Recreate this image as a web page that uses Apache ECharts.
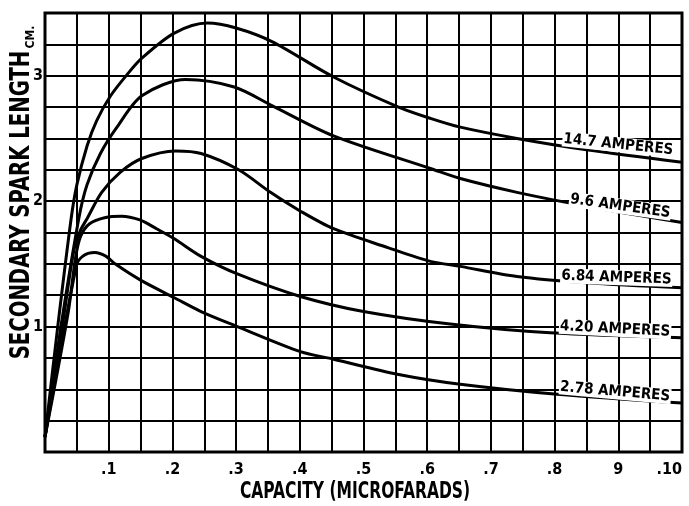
<!DOCTYPE html>
<html><head><meta charset="utf-8">
<script src="https://cdn.jsdelivr.net/npm/echarts@6/dist/echarts.min.js"></script>
<style>html,body{margin:0;padding:0;background:#fff}#c{width:689px;height:506px}</style>
</head><body><div id="c"></div>
<script>
// tick labels
const xTickLabels = ['', '.1', '.2', '.3', '.4', '.5', '.6', '.7', '.8', '9', '.10'];
const yTickLabels = ['', '1', '2', '3'];
const seriesNames = ['14.7 AMPERES', '9.6 AMPERES', '6.84 AMPERES', '4.20 AMPERES', '2.78 AMPERES'];

// 14.7 amperes
const cap147 = [0, 0.02, 0.041, 0.05, 0.066, 0.081, 0.103, 0.129, 0.152, 0.203, 0.255, 0.3, 0.357, 0.453, 0.555, 0.605, 0.652, 0.741, 0.85, 1.0];
const spark147 = [0.12, 1.0, 1.86, 2.13, 2.44, 2.64, 2.84, 3.01, 3.14, 3.34, 3.42, 3.38, 3.27, 2.99, 2.75, 2.66, 2.59, 2.5, 2.41, 2.31];
// 9.6 amperes
const cap96 = [0, 0.025, 0.053, 0.066, 0.087, 0.113, 0.152, 0.221, 0.297, 0.357, 0.453, 0.605, 0.652, 0.741, 0.85, 1.0];
const spark96 = [0.12, 1.0, 1.86, 2.13, 2.38, 2.59, 2.84, 2.97, 2.91, 2.76, 2.52, 2.26, 2.18, 2.07, 1.96, 1.83];
// 6.84 amperes
const cap684 = [0, 0.03, 0.045, 0.055, 0.066, 0.089, 0.118, 0.152, 0.205, 0.245, 0.304, 0.354, 0.401, 0.453, 0.538, 0.605, 0.652, 0.741, 0.85, 1.0];
const spark684 = [0.12, 1.1, 1.6, 1.76, 1.86, 2.07, 2.23, 2.34, 2.40, 2.38, 2.25, 2.07, 1.92, 1.78, 1.63, 1.52, 1.48, 1.40, 1.35, 1.31];
// 4.20 amperes
const cap420 = [0, 0.036, 0.048, 0.056, 0.07, 0.095, 0.12, 0.149, 0.175, 0.203, 0.245, 0.302, 0.401, 0.5, 0.636, 0.793, 1.0];
const spark420 = [0.12, 1.1, 1.55, 1.72, 1.82, 1.87, 1.88, 1.85, 1.78, 1.70, 1.56, 1.42, 1.24, 1.12, 1.02, 0.95, 0.91];
// 2.78 amperes
const cap278 = [0, 0.049, 0.059, 0.078, 0.096, 0.11, 0.15, 0.203, 0.245, 0.302, 0.401, 0.453, 0.553, 0.652, 0.804, 1.0];
const spark278 = [0.12, 1.48, 1.56, 1.59, 1.56, 1.50, 1.37, 1.23, 1.12, 1.0, 0.80, 0.74, 0.62, 0.54, 0.46, 0.39];

const capArrays = [cap147, cap96, cap684, cap420, cap278];
const sparkArrays = [spark147, spark96, spark684, spark420, spark278];

// where each curve's name is written (data coordinates) and its tilt
const labelCap = [0.9, 0.903, 0.897, 0.895, 0.895];
const labelSpark = [2.45, 1.96, 1.39, 0.98, 0.48];
const labelTilt = [-6, -8, -2, -3, -5];

const FONT = '"DejaVu Sans Condensed", "DejaVu Sans", sans-serif';

const chart = echarts.init(document.getElementById('c'), null, {renderer: 'canvas'});

const series = seriesNames.map((name, i) => ({
  name: name,
  type: 'line',
  smooth: 0.3,
  showSymbol: false,
  symbol: 'none',
  lineStyle: {color: '#000', width: 3},
  data: capArrays[i].map((c, j) => [c, sparkArrays[i][j]]),
  markPoint: {
    symbol: 'rect',
    symbolSize: [1, 1],
    itemStyle: {color: 'rgba(0,0,0,0)'},
    z: 10,
    data: [{coord: [labelCap[i], labelSpark[i]]}],
    label: {
      show: true,
      position: 'inside',
      formatter: name,
      color: '#000',
      fontFamily: FONT,
      fontWeight: 'bold',
      fontSize: 15,
      rotate: labelTilt[i],
      backgroundColor: '#fff',
      padding: [0, 1]
    }
  }
}));

chart.setOption({
  animation: false,
  backgroundColor: '#fff',
  grid: {left: 45, right: 7, top: 13, bottom: 54, show: true, borderColor: '#000', borderWidth: 3},
  xAxis: {
    type: 'value', min: 0, max: 1, interval: 0.05,
    axisLine: {show: false}, axisTick: {show: false},
    splitLine: {show: true, lineStyle: {color: '#000', width: 2}},
    axisLabel: {
      margin: 10, color: '#000', fontFamily: FONT, fontWeight: 'bold', fontSize: 16,
      alignMaxLabel: 'right',
      formatter: v => { const k = Math.round(v * 20); return k % 2 === 0 ? xTickLabels[k / 2] : ''; }
    }
  },
  yAxis: {
    type: 'value', min: 0, max: 3.5, interval: 0.25,
    axisLine: {show: false}, axisTick: {show: false},
    splitLine: {show: true, lineStyle: {color: '#000', width: 2}},
    axisLabel: {
      margin: 2, color: '#000', fontFamily: FONT, fontWeight: 'bold', fontSize: 16,
      formatter: v => { const k = Math.round(v * 4); return k % 4 === 0 ? yTickLabels[k / 4] : ''; }
    }
  },
  graphic: [
    {type: 'text', x: 22, y: 205, rotation: Math.PI / 2, scaleX: 0.84,
     style: {text: 'SECONDARY SPARK LENGTH', font: 'bold 26px ' + FONT, fill: '#000', textAlign: 'center', textVerticalAlign: 'middle'}},
    {type: 'text', x: 31, y: 37, rotation: Math.PI / 2,
     style: {text: 'CM.', font: 'bold 12px ' + FONT, fill: '#000', textAlign: 'center', textVerticalAlign: 'middle'}},
    {type: 'text', x: 355, y: 492, scaleX: 0.75,
     style: {text: 'CAPACITY (MICROFARADS)', font: 'bold 23px ' + FONT, fill: '#000', textAlign: 'center', textVerticalAlign: 'middle'}}
  ],
  series: series
});
</script>
</body></html>
